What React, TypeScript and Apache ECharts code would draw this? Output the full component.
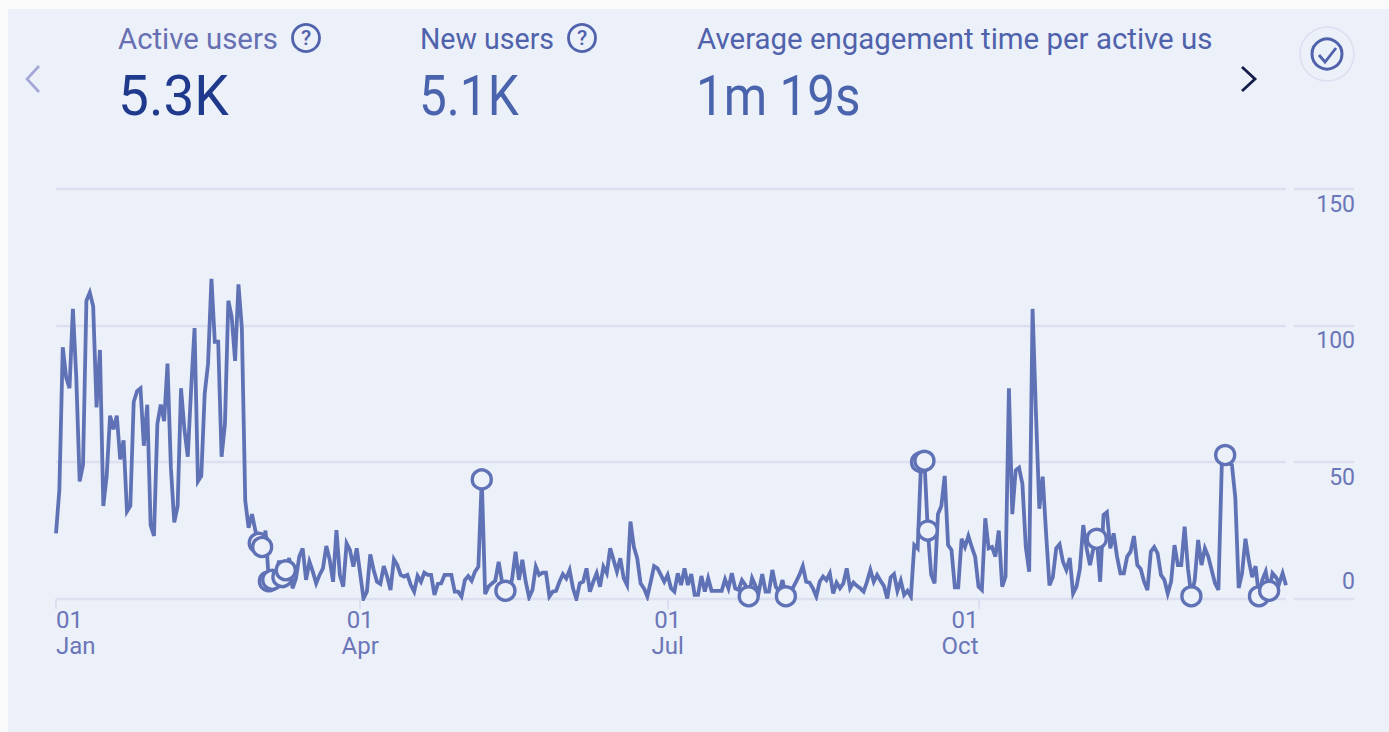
import React, { useEffect, useRef } from "react";
import * as echarts from "echarts";

const MONTHS = ["Jan", "Feb", "Mar", "Apr", "May", "Jun", "Jul", "Aug", "Sep", "Oct", "Nov", "Dec"];
const MONTH_DAYS = [31, 28, 31, 30, 31, 30, 31, 31, 30, 31, 30, 31];
const LABELLED_MONTHS: Record<string, string> = { Jan: "left", Apr: "center", Jul: "center", Oct: "right" };

const winterValues = [24,40,92,81,77,106,81,43,49,109,112,107,70,91,34,45,67,62,67,51,58,32,34,72,76,77,56,71,27,23,64,71,65,86,48,28,34,77,62,52,77,99,43,45,75,86,117,94,94,52,64,109,103,87,115,99,36,26,31,25,20.5,19,25,6.5,7,8,14,8,10.5,15];
const springValues = [3.9,7.5,15.5,18.5,7,13.6,10,5.7,8.8,11.2,19.4,14.3,6.3,25.2,8.8,4.5,20.3,17.9,11.8,18.5,9.4,0.2,2.7,16.3,10.6,6.3,5.5,12,8.2,3.3,14.5,12.4,8.8,8.2,8.8,5.1,2.7,8.4,6.3,9.6,8.8,8.8,1.5,5.5,5.7,8.8,8.8,8.8,2.7,2.7,0.9,6.9,8.4,6.7,10,11.8,43.7,1.8,4.5,5.7,6.7,13.6,6.3,3,2,7.5,17.3,7,14.3,6.3,0.6,3.3,11.8,8.8,9.6,9.6,0.9,2.7,3,6.3,9.1,7.5,10.6,3.9,0,5.7,6.3,11.2,2.7,6.3,9.4];
const summerValues = [4.5,11.8,9.4,18.5,14.3,10,14.9,7.6,5.1,28.3,19.1,14.9,5.7,3.9,0.9,6.3,12,11.2,8.8,6.3,8.8,3.9,2.7,9.4,5.1,11.2,5.1,9.1,1.5,1.5,8.4,2.7,7.6,3,3,3,3,7.2,3.9,9.4,3.9,3.3,6.9,5.1,1,7.6,4.8,2.7,9.1,2.7,2.7,10.6,4.5,2.7,6.9,1,3.9,3.9,6.3,8.8,12,6.3,6,3.9,0.9,6.3,8.2,6.9,9.4,2,6,3.9,5.7,11.2,3.9,6,4.8,3.9,2.7,6.3,10.6,6.3,8.8,6.7,4.8,0.2,7.9,9.1,3,6.7,1.5,3,0.9];
const autumnValues = [19.7,18.5,50,50.5,25,8.8,5.7,31,34,45,19.7,17.9,4.3,4.3,22,19,23,19,15.5,4.5,3.3,29.5,18.5,19,15.5,25,4.5,8.2,77,31,47,48,42,19,10,106,68,33,44.7,24,5,8,18.5,20,13.6,10.6,15,2,4.5,11,27,18.5,12.4,18.5,22,6.3,30.7,31.7,18.5,24,15.5,9.4,9.4,15.5,17.3,23,12.4,11,6.3,3.3,17.3,19,16.7,8.8,7,2,6.3,19.7,12.4,12.4,26.4,11,1,7,21.6,12.4,18.5,15.5,10.6,5.7,3.3,49,52.6,49.6,49,37,4,9.4,22,14,8,12,1,7,10,3,9.4,8,5.7,9.4,5];
const dailyValues = [...winterValues, ...springValues, ...summerValues, ...autumnValues];
const markedDays = [60, 61, 63, 64, 67, 68, 126, 133, 205, 216, 256, 257, 258, 308, 336, 346, 356, 359];

const LINE = "#6072b6";
const GRID = "#dcdff0";
const LABEL = "#6a76b8";
const CARD = "#ecf0f9";
const FONT = "Roboto";

const categories: any[] = [];
MONTHS.forEach((m, mi) => {
  for (let d = 1; d <= MONTH_DAYS[mi]; d++) {
    if (d === 1 && LABELLED_MONTHS[m]) {
      categories.push({ value: `01\n${m}`, textStyle: { align: LABELLED_MONTHS[m] } });
    } else {
      categories.push(`${String(d).padStart(2, "0")}\n${m}`);
    }
  }
});
const isMonthTick = (_: number, v: string) => /^01\n(Jan|Apr|Jul|Oct)$/.test(v);

const headerText = (text: string, x: number, y: number, size: number, fill: string, scaleX = 1) => ({
  type: "text",
  x,
  y,
  scaleX,
  silent: true,
  style: { text, fill, fontSize: size, fontFamily: FONT, fontWeight: 400, verticalAlign: "middle" },
});
const helpIcon = (cx: number, cy: number) => [
  { type: "circle", shape: { cx, cy, r: 13.5 }, style: { fill: "none", stroke: "#4f62ab", lineWidth: 2.8 } },
  { type: "text", x: cx, y: cy, style: { text: "?", fill: "#4f62ab", fontSize: 21, fontFamily: FONT, fontWeight: 500, align: "center", verticalAlign: "middle" } },
];

export default function App() {
  const ref = useRef<HTMLDivElement>(null);
  useEffect(() => {
    const chart = echarts.init(ref.current!, undefined, { renderer: "svg" });
    chart.setOption({
      animation: false,
      backgroundColor: "#fafafa",
      graphic: [
        { type: "rect", z: -10, shape: { x: 8, y: 9, width: 1381, height: 723 }, style: { fill: CARD } },
        headerText("Active users", 118, 39, 29, "#6670b2", 1.012),
        ...helpIcon(306, 38),
        headerText("New users", 420, 39, 29, "#4f62ab", 0.985),
        ...helpIcon(582, 38),
        headerText("Average engagement time per active us", 697, 39, 29, "#4f62ab", 1.015),
        headerText("5.3K", 118, 96, 55, "#1f3a8c"),
        headerText("5.1K", 419, 96, 55, "#4a63ad", 0.9),
        headerText("1m 19s", 696, 96, 55, "#4a63ad", 0.9),
        { type: "polyline", shape: { points: [[39, 66], [27, 79], [39, 92]] }, style: { fill: "none", stroke: "#a6a6d6", lineWidth: 2.6 } },
        { type: "polyline", shape: { points: [[1242, 67], [1255, 79], [1242, 91]] }, style: { fill: "none", stroke: "#141c4a", lineWidth: 2.8 } },
        { type: "circle", shape: { cx: 1327, cy: 54, r: 27 }, style: { fill: "none", stroke: GRID, lineWidth: 1.5 } },
        { type: "circle", shape: { cx: 1327, cy: 54, r: 15 }, style: { fill: "none", stroke: "#4f62ab", lineWidth: 3 } },
        { type: "polyline", shape: { points: [[1319, 55], [1325, 62], [1336, 48]] }, style: { fill: "none", stroke: "#4f62ab", lineWidth: 2.8 } },
      ],
      grid: [
        { left: 56, top: 188.5, width: 1230, height: 410.5 },
        { left: 1294, top: 188.5, width: 60, height: 410.5 },
      ],
      xAxis: [
        {
          type: "category",
          gridIndex: 0,
          data: categories,
          boundaryGap: false,
          axisLine: { show: false },
          axisTick: { show: true, length: 10, interval: isMonthTick, lineStyle: { color: GRID, width: 2 } },
          axisLabel: { interval: isMonthTick, hideOverlap: false, margin: 8, color: LABEL, fontSize: 24, lineHeight: 26, fontFamily: FONT },
          splitLine: { show: false },
        },
        { type: "value", gridIndex: 1, show: false, min: 0, max: 1 },
      ],
      yAxis: [
        {
          type: "value",
          gridIndex: 0,
          min: 0,
          max: 150,
          interval: 50,
          position: "right",
          axisLine: { show: false },
          axisTick: { show: false },
          axisLabel: { show: false },
          splitLine: { show: true, lineStyle: { color: GRID, width: 2.4 } },
        },
        {
          type: "value",
          gridIndex: 1,
          min: 0,
          max: 150,
          interval: 50,
          position: "right",
          axisLine: { show: false },
          axisTick: { show: false },
          splitLine: { show: true, lineStyle: { color: GRID, width: 2.4 } },
          axisLabel: {
            inside: true,
            margin: -1,
            color: LABEL,
            fontFamily: FONT,
            fontSize: 23,
            formatter: (v: number) => (v === 0 ? "{zero|0}" : `{num|${v}}`),
            rich: {
              num: { color: LABEL, fontFamily: FONT, fontSize: 23, padding: [31, 0, 0, 0] },
              zero: { color: LABEL, fontFamily: FONT, fontSize: 23, padding: [0, 0, 36, 0] },
            },
          },
        },
      ],
      series: [
        {
          type: "line",
          xAxisIndex: 0,
          yAxisIndex: 0,
          data: dailyValues,
          symbol: "none",
          smooth: false,
          lineStyle: { color: LINE, width: 3.8, join: "miter" },
          z: 3,
        },
        {
          type: "scatter",
          xAxisIndex: 0,
          yAxisIndex: 0,
          data: markedDays.map((d) => [d, dailyValues[d]]),
          symbol: "circle",
          symbolSize: 19,
          itemStyle: { color: CARD, borderColor: LINE, borderWidth: 3.4, opacity: 1 },
          z: 4,
        },
      ],
    });
    return () => chart.dispose();
  }, []);
  return <div ref={ref} style={{ position: "fixed", left: 0, top: 0, width: 1389, height: 732 }} />;
}
